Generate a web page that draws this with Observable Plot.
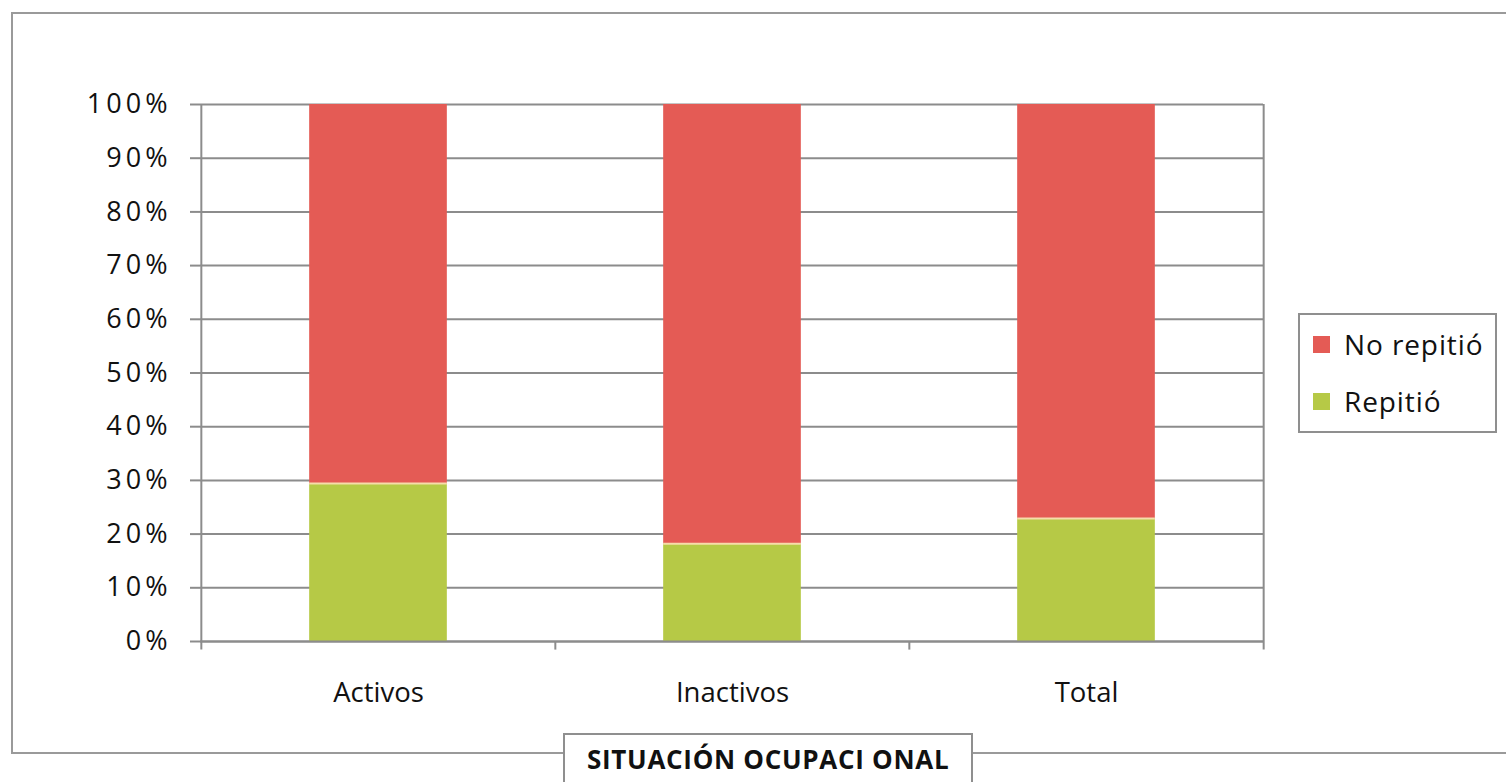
<!DOCTYPE html>
<html>
<head>
<meta charset="utf-8">
<script src="https://cdn.jsdelivr.net/npm/d3@7"></script>
<script src="https://cdn.jsdelivr.net/npm/@observablehq/plot@0.6"></script>
<style>
  html, body { margin: 0; padding: 0; background: #fff; }
  #wrap { position: relative; width: 1506px; height: 782px; overflow: hidden; font-family: "Open Sans", sans-serif; }
  #frame { position: absolute; left: 11px; top: 12px; width: 1510px; height: 742px; border: 2px solid #9a9a9a; box-sizing: border-box; }
  #chart { position: absolute; left: 0; top: 0; }
  #legend { position: absolute; left: 1298px; top: 313px; width: 199px; height: 120px; border: 2px solid #8f8f8f; box-sizing: border-box; background: #fff; }
  .li { position: absolute; left: 13px; display: flex; align-items: center; font-size: 28px; letter-spacing: 0.9px; color: #111; white-space: nowrap; }
  .sw { width: 17px; height: 17px; margin-right: 14px; }
  #xtitle { position: absolute; left: 563px; top: 733px; width: 410px; height: 60px; border: 2px solid #8f8f8f; box-sizing: border-box; background: #fff; font-weight: bold; font-size: 26px; letter-spacing: 0.7px; color: #111; padding-left: 22px; padding-top: 6px; white-space: pre; }
  g[aria-label="y-axis tick label"] text { letter-spacing: 4px; }
</style>
</head>
<body>
<div id="wrap">
  <div id="frame"></div>
  <div id="chart"></div>
  <div id="legend"></div>
  <div id="xtitle">SITUACIÓN OCUPACI ONAL</div>
</div>
<script>
const categories = ["Activos", "Inactivos", "Total"];
const seriesNames = ["Repitió", "No repitió"];
const repitio = [0.294, 0.182, 0.229];
const noRepitio = [0.706, 0.818, 0.771];
const colors = { "No repitió": "#e45b55", "Repitió": "#b6c946" };
const legendOrder = ["No repitió", "Repitió"];
const yTicks = [0, 0.1, 0.2, 0.3, 0.4, 0.5, 0.6, 0.7, 0.8, 0.9, 1];

const rows = [];
categories.forEach((c, i) => {
  rows.push({ cat: c, series: "Repitió", value: repitio[i] });
  rows.push({ cat: c, series: "No repitió", value: noRepitio[i] });
});
const greenRows = categories.map((c, i) => ({ cat: c, value: repitio[i] }));

const gray = "#8c8c8c";
const W = 1506, H = 782, ML = 200, MR = 243;
const half = (W - ML - MR) / categories.length / 2;
const inset = half - 69;

const chart = Plot.plot({
  width: W,
  height: H,
  marginLeft: ML,
  marginRight: MR,
  marginTop: 104,
  marginBottom: 141,
  style: { fontFamily: "Open Sans, sans-serif", background: "transparent", color: "#111" },
  x: { domain: categories, padding: 0, label: null },
  y: { domain: [0, 1], label: null },
  color: { domain: legendOrder, range: legendOrder.map(k => colors[k]) },
  marks: [
    Plot.gridY(yTicks, { stroke: gray, strokeOpacity: 1, strokeWidth: 2 }),
    Plot.barY(rows, Plot.stackY({ order: seriesNames }, { x: "cat", y: "value", fill: "series", insetLeft: inset, insetRight: inset })),
    Plot.tickY(greenRows, { x: "cat", y: "value", stroke: "#f6dcaa", strokeWidth: 2, insetLeft: inset, insetRight: inset }),
    Plot.ruleY([0], { stroke: gray, strokeWidth: 2 }),
    Plot.ruleX([categories[0]], { y1: -0.016, y2: 1, dx: -half, stroke: gray, strokeWidth: 2 }),
    Plot.ruleX([categories[categories.length - 1]], { y1: -0.016, y2: 1, dx: half, stroke: gray, strokeWidth: 2 }),
    Plot.ruleX(categories.slice(1), { y1: -0.016, y2: 0, dx: -half, stroke: gray, strokeWidth: 2 }),
    Plot.axisY(yTicks, { tickSize: 10, tickPadding: 19, stroke: gray, strokeWidth: 2, fontSize: 27, fill: "#111", tickFormat: d3.format(".0%"), label: null }),
    Plot.axisX({ tickSize: 0, tickPadding: 41, fontSize: 27.5, fill: "#111", label: null })
  ]
});
document.getElementById("chart").appendChild(chart);

const legend = document.getElementById("legend");
legendOrder.forEach((k, i) => {
  const item = document.createElement("div");
  item.className = "li";
  item.style.top = (i === 0 ? 10 : 67) + "px";
  const sw = document.createElement("div");
  sw.className = "sw";
  sw.style.background = colors[k];
  item.appendChild(sw);
  const t = document.createElement("span");
  t.textContent = k;
  item.appendChild(t);
  legend.appendChild(item);
});
</script>
</body>
</html>
